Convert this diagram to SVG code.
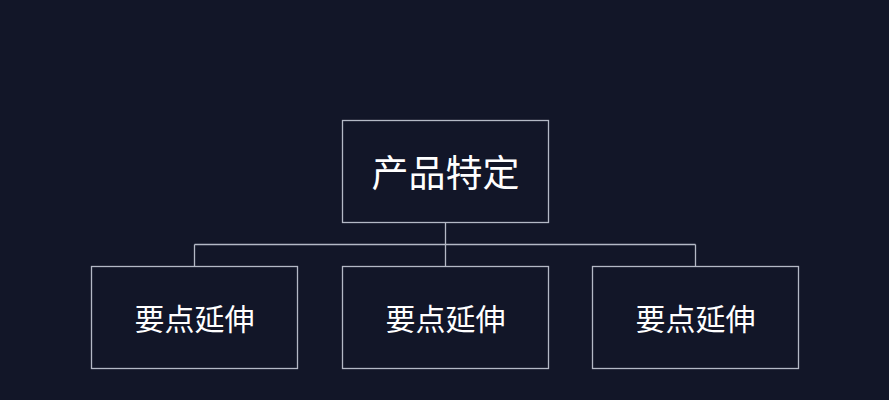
<svg xmlns="http://www.w3.org/2000/svg" width="889" height="400" viewBox="0 0 889 400">
<style>
.box{fill:#121628;stroke:#b4b9c6;stroke-width:1.3}
.ln{fill:none;stroke:#b4b9c6;stroke-width:1.3}
.t{fill:#ffffff;font-family:"Noto Sans CJK SC","Noto Sans",sans-serif;text-anchor:middle;dominant-baseline:central}
</style>
<rect width="889" height="400" fill="#121628"/>
<g id="connectors">
<path class="ln" d="M445.5 222.5V244.5M194.5 244.5H695.5M194.5 244.5V266.5M445.5 244.5V266.5M695.5 244.5V266.5"/>
</g>
<g id="top">
<rect class="box" x="342.5" y="120.5" width="206" height="102"/>
<text class="t" x="445.5" y="170.5" font-size="37">产品特定</text>
</g>
<g id="left">
<rect class="box" x="91.5" y="266.5" width="206" height="102"/>
<text class="t" x="194.5" y="316.5" font-size="30">要点延伸</text>
</g>
<g id="middle">
<rect class="box" x="342.5" y="266.5" width="206" height="102"/>
<text class="t" x="445.5" y="316.5" font-size="30">要点延伸</text>
</g>
<g id="right">
<rect class="box" x="592.5" y="266.5" width="206" height="102"/>
<text class="t" x="695.5" y="316.5" font-size="30">要点延伸</text>
</g>
</svg>
